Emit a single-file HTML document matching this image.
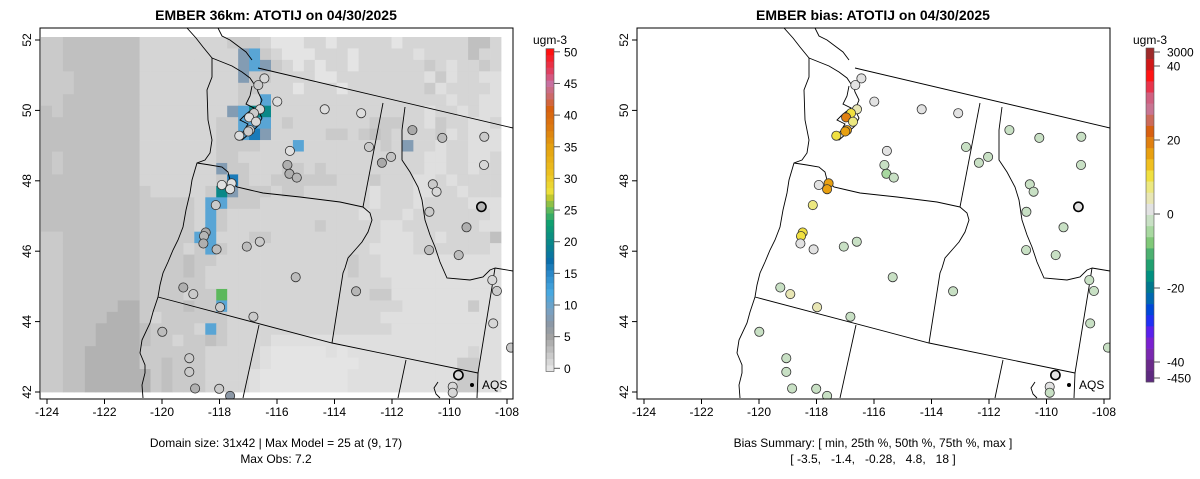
<!DOCTYPE html>
<html><head><meta charset="utf-8"><style>
body{margin:0;background:#fff;}
svg{display:block;font-family:"Liberation Sans",Arial,sans-serif;}
</style></head><body>
<svg id="chart" width="1200" height="479" viewBox="0 0 1200 479"></svg>
<script>
// ===== DATA =====
const gridRows = [
"mmdddddddcccccc"+"ccmmmcLLLccLcccccLccccccddc",
"mmdddddddcccccc"+"cccpBmcLLLcccLccccclccccdcc",
"mmdddddddcccccc"+"cccpBpmcLcLccLccccccmclccmc",
"mmmddddddcccccc"+"cccpmmccccLLcccccccclmlccll",
"mmmddddddcccccc"+"cccmmcccLcccLcccccccmlccccl",
"mmdddddddcccccc"+"cccmcBcccccccccccccccclccll",
"dmdddddddcccccc"+"ccpBGGcccccccccccccclcclcll",
"ddddddddd"+"cccccc"+"cmmBBBcmcccccccmmmcclmccllc",
"ddddddddd"+"cccccc"+"cmmBDpcccccmmcmdmccccmlclll",
"ddddddddd"+"cccccc"+"cmmmmcccBcccccccmcpcclcclll",
"dmddddddd"+"cccccc"+"cmmcccccccccccccccccllccllc",
"dmddddddd"+"cccccc"+"cpmmcccmmcmcccccccccllcclcc",
"ddddddddd"+"cccccc"+"cmDmccmmmmmmcccmcccllclcccc",
"ddddddddd"+"mccccc"+"mGpmmmcmmcccccclcccllcclccc",
"ddddddddd"+"mmmmmc"+"BBmmmcccccccccclccclcccclll",
"ddddddddd"+"mmmmmc"+"Bmcccccccccccclccclcccccccl",
"ddddddddd"+"mmmmmc"+"Bmccccccccmcccccllcccccccll",
"mmddddddd"+"mmmmmB"+"Bcccmmcccccccccclllcclccccdd",
"mmddddddd"+"mmmmcm"+"Bmcccccccccccccllllcccccccl",
"mmddddddd"+"mmmmdm"+"mccccccccccccmcclllllllllll",
"mmddddddd"+"mmmmdm"+"cccccccccccccmcclllllllllll",
"mmddddddd"+"mmmmmm"+"cccccccccccccccccllllllllll",
"mmddddddd"+"mmmmcm"+"mgcccccccccccccmmllllllllll",
"mmdddddkk"+"mmmmdm"+"mBccccccccccccccccllllllmll",
"mmddddkkk"+"mcmmmm"+"mmcccccccccccccclllllllllll",
"mmdddkkkk"+"dmmmmc"+"Bmcccccccccccccccllllllllll",
"mmdddkkkk"+"dmmcmm"+"dmcccclllllllllllllllllllll",
"mmddkkkkk"+"mmmmmm"+"ccccclLLLLLlLlllllllllllcll",
"mmddkkkkk"+"mmdmmm"+"ccccclLLLLLLLLlllllllllmmll",
"mmddkkkkk"+"kmdmmm"+"cccclLLLLLLLLllllllllllmmll",
"mmddkkkkk"+"kmdmmm"+"cccclLLLLLLLLllllllllllmmll"
];
const cellValue = {L:0,l:0.4,c:1.1,m:2,d:2.7,k:3.8,p:8,B:11,D:16,G:20,g:25};

const obsLon = [-116.44,-116.65,-115.99,-114.34,-113.07,-116.59,-116.80,-116.97,-116.73,-116.94,-117.00,-117.31,-111.29,-110.25,-108.79,-115.55,-112.80,-112.03,-112.35,-108.80,-115.64,-115.57,-115.31,-117.92,-117.58,-117.63,-110.58,-110.45,-108.89,-118.13,-110.70,-109.41,-118.48,-118.54,-118.56,-118.10,-117.05,-116.60,-110.71,-109.68,-108.51,-108.35,-115.35,-119.26,-118.91,-113.25,-117.98,-116.82,-108.48,-119.99,-107.86,-119.05,-119.05,-109.69,-109.89,-109.89,-118.85,-118.01,-117.63];
const obsLat = [50.91,50.72,50.25,50.03,49.92,50.03,49.92,49.80,49.68,49.44,49.40,49.28,49.44,49.22,49.25,48.85,48.96,48.68,48.51,48.45,48.45,48.20,48.09,47.88,47.93,47.76,47.90,47.69,47.26,47.31,47.12,46.68,46.53,46.43,46.22,46.05,46.13,46.27,46.03,45.89,45.18,44.87,45.26,44.97,44.78,44.86,44.41,44.14,43.95,43.71,43.26,42.96,42.57,42.48,42.15,41.98,42.10,42.09,41.89];
const obsValue = [1.0,2.0,0.5,0.5,0.5,1.0,2.0,0.5,1.0,2.0,2.0,0.5,4.5,3.0,2.0,0.3,2.0,2.5,4.5,1.0,4.0,4.0,3.5,0.3,0.3,0.3,2.0,1.0,3.5,2.0,2.0,4.0,4.5,3.5,4.0,3.0,3.0,2.0,3.0,3.0,1.0,2.0,3.0,4.0,2.0,3.5,2.0,2.0,1.0,3.0,2.0,2.0,2.0,1.0,1.0,1.0,4.0,2.0,7.2];
const obsBias = [0,0,0,0,0,4,10,18,8,16,16,10,-2,-1,-1,0,-1,-2,-1,-1,-1,-4,-1,0,15,16,-2,-1,0,6,-1,-2,9,9,0,0,-1,-1,-1,-1,-1,-1,-2,-1,3,-1,5,-2,-1,-2,-1,-1,-1,0,0,-1,-2,-1,-2];
const obsOutline = [0,0,0,0,0,0,0,0,0,0,0,0,0,0,0,0,0,0,0,0,0,0,0,0,0,0,0,0,1,0,0,0,0,0,0,0,0,0,0,0,0,0,0,0,0,0,0,0,0,0,0,0,0,1,0,0,0,0,0];

const xTicks = [-124,-122,-120,-118,-116,-114,-112,-110,-108];
const yTicks = [42,44,46,48,50,52];
const modelTicks = [0,5,10,15,20,25,30,35,40,45,50];
const biasTicks = [3000,40,20,0,-20,-40,-450];
const biasColors = ["#9e2a2a","#d01818","#ff1414","#e8344c","#d06080","#c87492","#cc6a5a","#d86010","#e08010","#e8a010","#f0c020","#f0e040","#ece880","#e8e6b4","#e2e2e2","#c8e0c4","#a8d8a0","#80c878","#4cb070","#20a070","#009080","#00788e","#0068b0","#0048d8","#2030f4","#5a20ec","#7a20d0","#7a28b0","#6a2a8a","#5e2a80"];
const modelStops = [[0,"#e4e4e4"],[5,"#a2a2a2"],[7,"#8c98a6"],[9,"#7aa0c0"],[12,"#48a8e0"],[15,"#2a88c8"],[17,"#0a6eaa"],[20,"#0a8888"],[23,"#10a070"],[25,"#5cb85c"],[27,"#c0c830"],[28,"#ecdf3a"],[31,"#ecc020"],[35,"#e4a010"],[38,"#dc7a10"],[41,"#d86010"],[43,"#cc6a6a"],[45,"#c870a0"],[47,"#e04060"],[50,"#ff1010"]];

// ===== HELPERS =====
const NS="http://www.w3.org/2000/svg";
const svg=document.getElementById('chart');
function mk(tag,parent){const e=document.createElementNS(NS,tag);(parent||svg).appendChild(e);return e;}
function hex(c){return [parseInt(c.substr(1,2),16),parseInt(c.substr(3,2),16),parseInt(c.substr(5,2),16)];}
function modelColor(v){
  v=Math.max(0,Math.min(50,v));
  if(v>5) v=Math.round(v);
  for(let i=0;i<modelStops.length-1;i++){const a=modelStops[i],b=modelStops[i+1];
    if(v>=a[0]&&v<=b[0]){const t=(v-a[0])/(b[0]-a[0]);const ca=hex(a[1]),cb=hex(b[1]);
      return "rgb("+ca.map((x,j)=>Math.round(x+(cb[j]-x)*t)).join(",")+")";}}
  return "#ff1010";
}
function biasY(v){ if(v>40) return 66-14*Math.min(1,(v-40)/2960); if(v<-40) return 362+16*Math.min(1,(-40-v)/410); return 214-v*3.7; }
function biasColor(v){ let i=Math.floor((biasY(v)-48)/(334/biasColors.length)); i=Math.max(0,Math.min(biasColors.length-1,i)); return biasColors[i]; }
function px(lon,off){return 47+(lon+124)*28.75+off;}
function py(lat){return 40+(52-lat)*35.2;}

const basemap=[
 {n:"canada-border",p:[[258,68],[513,128]]},
 {n:"coastline",p:[[187,28],[196,38],[203,47],[212,58],[212,77],[207,90],[208,120],[212,140],[210,153],[205,160],[197,163],[192,180],[190,193],[186,210],[183,227],[178,240],[173,250],[168,262],[163,273],[160,285],[158,297],[153,312],[150,323],[142,340],[140,353],[145,365],[145,373],[142,385],[143,398]]},
 {n:"strait-coast",p:[[212,58],[222,62],[232,66],[242,72],[250,78],[254,84]]},
 {n:"vancouver-island",p:[[218,28],[222,36],[230,40],[238,46],[246,52],[252,60]]},
 {n:"puget-sound",p:[[252,86],[250,96],[246,104],[254,108],[246,114],[240,120],[248,124],[243,132],[237,136],[242,140],[250,133],[258,126],[262,118],[258,110],[262,100],[258,92],[256,84]]},
 {n:"columbia-river",p:[[197,163],[210,165],[222,167],[228,172],[230,180],[237,187],[250,190],[263,193],[300,197],[340,202],[363,207]]},
 {n:"wa-id-border",p:[[383,103],[363,207]]},
 {n:"snake-river",p:[[363,207],[370,213],[372,220],[368,232],[362,242],[355,250],[348,258],[345,268],[343,273],[332,343]]},
 {n:"or-south-border",p:[[158,297],[332,343],[478,373]]},
 {n:"ca-nv-border",p:[[259,325],[243,398]]},
 {n:"nv-ut-border",p:[[406,360],[398,398]]},
 {n:"id-mt-border",p:[[405,107],[402,130],[402,160],[410,172],[418,187],[422,200],[425,220],[430,235],[435,247],[440,262],[447,278],[470,280],[483,277],[490,270],[495,268]]},
 {n:"mt-wy-border",p:[[495,268],[513,271]]},
 {n:"id-wy-border",p:[[495,268],[492,287],[478,373]]},
 {n:"wy-ut-border",p:[[478,373],[477,398]]},
 {n:"great-salt-lake",p:[[438,382],[434,388],[436,394],[440,398]]}
];

function panel(off,isBias,title,sub1,sub2,tag){
  const g=mk('g');  
  const clipId='clip'+tag; const cp=mk('clipPath',g); cp.setAttribute('id',clipId);
  const cr=mk('rect',cp); cr.setAttribute('x',40+off); cr.setAttribute('y',28); cr.setAttribute('width',473); cr.setAttribute('height',371);
  const inner=mk('g',g); inner.setAttribute('clip-path','url(#'+clipId+')');
   
  if(!isBias){
    const cw=(501-41)/42, ch=(392-37)/31;
    gridRows.forEach((row,r)=>{ for(let c=0;c<42;c++){ const k=row[c]||'c';
      const rc=mk('rect',inner);
      
      
      rc.setAttribute('x',(41+c*cw).toFixed(2)); rc.setAttribute('y',(37+r*ch).toFixed(2));
      rc.setAttribute('width',(cw+0.4).toFixed(2)); rc.setAttribute('height',(ch+0.4).toFixed(2));
      rc.setAttribute('fill',modelColor(cellValue[k]));}});
  }
  basemap.forEach(b=>{const pl=mk('polyline',inner);
    
    
    pl.setAttribute('points',b.p.map(q=>(q[0]+off)+','+q[1]).join(' '));
    pl.setAttribute('fill','none'); pl.setAttribute('stroke','#000'); pl.setAttribute('stroke-width','0.9');});
  for(let i=0;i<obsLon.length;i++){
    const c=mk('circle',inner);
    
    
    c.setAttribute('cx',px(obsLon[i],off).toFixed(1)); c.setAttribute('cy',py(obsLat[i]).toFixed(1)); c.setAttribute('r',4.6);
    c.setAttribute('fill',isBias?biasColor(obsBias[i]):modelColor(obsValue[i]));
    c.setAttribute('stroke',obsOutline[i]?'#000':'#333'); c.setAttribute('stroke-width',obsOutline[i]?1.6:0.8);
  }
  const ad=mk('circle',g);  
  ad.setAttribute('cx',472+off); ad.setAttribute('cy',385); ad.setAttribute('r',2); ad.setAttribute('fill','#000');
  const at=mk('text',g);  
  at.setAttribute('x',482+off); at.setAttribute('y',389); at.setAttribute('font-size','12'); at.textContent='AQS';
  const fr=mk('rect',g);  
  fr.setAttribute('x',40+off); fr.setAttribute('y',28); fr.setAttribute('width',473); fr.setAttribute('height',371);
  fr.setAttribute('fill','none'); fr.setAttribute('stroke','#000'); fr.setAttribute('stroke-width','1');
  xTicks.forEach(t=>{const x=px(t,off);
    const l=mk('line',g);  
    l.setAttribute('x1',x); l.setAttribute('x2',x); l.setAttribute('y1',399); l.setAttribute('y2',404); l.setAttribute('stroke','#000');
    const tx=mk('text',g);  
    tx.setAttribute('x',x); tx.setAttribute('y',416); tx.setAttribute('text-anchor','middle'); tx.setAttribute('font-size','12'); tx.textContent=t;});
  yTicks.forEach(t=>{const y=py(t);
    const l=mk('line',g);  
    l.setAttribute('x1',35+off); l.setAttribute('x2',40+off); l.setAttribute('y1',y); l.setAttribute('y2',y); l.setAttribute('stroke','#000');
    const tx=mk('text',g);  
    tx.setAttribute('transform','translate('+(31+off)+','+y+') rotate(-90)'); tx.setAttribute('text-anchor','middle'); tx.setAttribute('font-size','12'); tx.textContent=t;});
  const ti=mk('text',g);  
  ti.setAttribute('x',276+off); ti.setAttribute('y',20); ti.setAttribute('text-anchor','middle'); ti.setAttribute('font-size','14'); ti.setAttribute('font-weight','bold'); ti.textContent=title;
  const s1=mk('text',g);  
  s1.setAttribute('x',276+off); s1.setAttribute('y',447); s1.setAttribute('text-anchor','middle'); s1.setAttribute('font-size','12'); s1.textContent=sub1;
  const s2=mk('text',g);  
  s2.setAttribute('x',276+off); s2.setAttribute('y',463); s2.setAttribute('text-anchor','middle'); s2.setAttribute('font-size','12'); s2.style.whiteSpace='pre'; s2.textContent=sub2;
}
panel(0,false,'EMBER 36km: ATOTIJ on 04/30/2025','Domain size: 31x42 | Max Model = 25 at (9, 17)','Max Obs: 7.2','model');
panel(597,true,'EMBER bias: ATOTIJ on 04/30/2025','Bias Summary: [ min, 25th %, 50th %, 75th %, max ]','[ -3.5,   -1.4,   -0.28,   4.8,   18 ]','bias');

(function(){
  const g=mk('g');  
  const bh=6.33;
  for(let v=0;v<=50;v++){const r=mk('rect',g);
    
    
    r.setAttribute('x',546); r.setAttribute('y',(368.3-v*bh-bh/2).toFixed(2)); r.setAttribute('width',8); r.setAttribute('height',(bh+0.3).toFixed(2)); r.setAttribute('fill',modelColor(v));}
  const fr=mk('rect',g); fr.setAttribute('x',546); fr.setAttribute('y',368.3-50*bh-bh/2); fr.setAttribute('width',8); fr.setAttribute('height',51*bh); fr.setAttribute('fill','none'); fr.setAttribute('stroke','#555'); fr.setAttribute('stroke-width','0.6');
  modelTicks.forEach(t=>{const y=368.3-t*bh;
    const l=mk('line',g);  
    l.setAttribute('x1',554); l.setAttribute('x2',560); l.setAttribute('y1',y); l.setAttribute('y2',y); l.setAttribute('stroke','#555');
    const tx=mk('text',g);  
    tx.setAttribute('x',564); tx.setAttribute('y',y+4.5); tx.setAttribute('font-size','12'); tx.textContent=t;});
  const u=mk('text',g);  
  u.setAttribute('x',550); u.setAttribute('y',44); u.setAttribute('text-anchor','middle'); u.setAttribute('font-size','12'); u.textContent='ugm-3';
})();
(function(){
  const g=mk('g');  
  const n=biasColors.length, bh=334/n;
  biasColors.forEach((c,i)=>{const r=mk('rect',g);
    
    
    r.setAttribute('x',1146); r.setAttribute('y',(48+i*bh).toFixed(2)); r.setAttribute('width',8); r.setAttribute('height',(bh+0.3).toFixed(2)); r.setAttribute('fill',c);});
  const fr=mk('rect',g); fr.setAttribute('x',1146); fr.setAttribute('y',48); fr.setAttribute('width',8); fr.setAttribute('height',334); fr.setAttribute('fill','none'); fr.setAttribute('stroke','#555'); fr.setAttribute('stroke-width','0.6');
  biasTicks.forEach(t=>{const y=biasY(t);
    const l=mk('line',g);  
    l.setAttribute('x1',1154); l.setAttribute('x2',1160); l.setAttribute('y1',y); l.setAttribute('y2',y); l.setAttribute('stroke','#555');
    const tx=mk('text',g);  
    tx.setAttribute('x',1167); tx.setAttribute('y',y+4.5); tx.setAttribute('font-size','12'); tx.textContent=t;});
  const u=mk('text',g);  
  u.setAttribute('x',1150); u.setAttribute('y',44); u.setAttribute('text-anchor','middle'); u.setAttribute('font-size','12'); u.textContent='ugm-3';
})();
</script>
</body></html>
